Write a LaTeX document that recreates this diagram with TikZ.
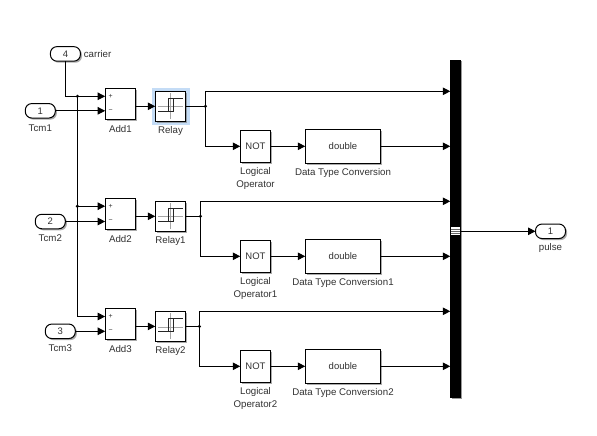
\documentclass[tikz,border=0pt]{standalone}
\usepackage{fontspec}
\setmainfont{Liberation Sans}
\usetikzlibrary{arrows.meta,shadows,calc}
\definecolor{lab}{RGB}{50,50,50}
\definecolor{hilite}{RGB}{196,220,246}
\tikzset{
  x=1pt,y=-1pt,
  blk/.style={draw=black,fill=white,line width=1pt,inner sep=0pt,outer sep=0pt,
    drop shadow={shadow xshift=1.6pt,shadow yshift=-1.6pt,fill=black!55,opacity=.6},font=\fontsize{9.5}{10}\selectfont,text=lab},
  port/.style={blk,rounded corners=6.5pt,minimum width=30pt,minimum height=14.5pt},
  lbl/.style={inner sep=0pt,font=\fontsize{9.7}{10}\selectfont,text=lab},
  wire/.style={draw=black,line width=1pt},
  sig/.style={wire,-{Triangle[length=7.5pt,width=7.5pt]}},
  dot/.style={circle,fill=black,inner sep=0pt,minimum size=3.4pt},
  sgn/.style={inner sep=0pt,font=\fontsize{7}{7}\selectfont,text=lab},
}
\newcommand{\addblk}[6]{% name, centre y, label, ya, yb, yout
  \node[blk,minimum width=30.5pt,minimum height=31pt] (#1) at (120.4,#2) {};
  \coordinate (#1a) at (#1.west |- 0,#4);
  \coordinate (#1b) at (#1.west |- 0,#5);
  \coordinate (#1o) at (#1.east |- 0,#6);
  \node[sgn] at (110.7,#4) {+};
  \node[sgn] at (110.7,#5) {−};
  \node[lbl] at ($(#1.south)+(0,9.8)$) {#3};
}
\newcommand{\relayblk}[3]{% name, centre y, label
  \node[blk,minimum width=30.5pt,minimum height=30pt] (#1) at (170.5,#2) {};
  \draw[black!35,line width=0.7pt] ($(#1.center)+(-12.5,0.5)$) -- ($(#1.center)+(12.5,0.5)$);
  \draw[black!35,line width=0.7pt] ($(#1.center)+(0,-13)$) -- ($(#1.center)+(0,13)$);
  \draw[black!85,line width=0.9pt] ($(#1.center)+(-12.5,5.4)$) -- ($(#1.center)+(-2.5,5.4)$) -- ($(#1.center)+(-2.5,-8)$) -- ($(#1.center)+(12.5,-8)$);
  \draw[black!85,line width=0.9pt] ($(#1.center)+(-2.5,5.4)$) -- ($(#1.center)+(2.5,5.4)$) -- ($(#1.center)+(2.5,-8)$);
  \node[lbl] at ($(#1.south)+(0,9.8)$) {#3};
}
\newcommand{\notblk}[3]{% name, centre y, suffix
  \node[blk,minimum width=30.5pt,minimum height=32pt] (#1) at (255.5,#2) {NOT};
  \node[lbl] (#1l) at ($(#1.south)+(0,9.7)$) {Logical};
  \node[lbl] (#1m) at ($(#1.south)+(0,23)$) {Operator#3};
}
\newcommand{\dblblk}[3]{% name, centre y, suffix
  \node[blk,minimum width=75.5pt,minimum height=34pt] (#1) at (343,#2) {double};
  \node[lbl] at ($(#1.south)+(0,9.6)$) {Data Type Conversion#3};
}
\begin{document}
\begin{tikzpicture}
\useasboundingbox (0,0) rectangle (597,436);
\fill[white] (0,0) rectangle (597,436);

% bus
\fill[black!40] (451.8,61.5) rectangle (462.2,399.2);
\node[fill=black,inner sep=0pt,outer sep=0pt,minimum width=10.4pt,minimum height=337.7pt] (bus) at (455.5,228.85) {};
\node[fill=white,inner sep=0pt,outer sep=0pt,minimum width=9.2pt,minimum height=8pt] (busout) at (455.5,231.3) {};
\draw[black!60,line width=0.6pt] (busout.west |- 0,229.3) -- (busout.east |- 0,229.3)
  (busout.west |- 0,231.3) -- (busout.east |- 0,231.3)
  (busout.west |- 0,233.3) -- (busout.east |- 0,233.3);

% relay highlight
\fill[hilite] (152,88) rectangle (189.7,125);

% ports
\node[port] (p4) at (65.4,53.9) {4};
\node[lbl,anchor=west] at (83.6,54) {carrier};
\node[port] (p1) at (40.3,110.8) {1};
\node[lbl] at (40.3,127.8) {Tcm1};
\node[port] (p2) at (50.3,221.5) {2};
\node[lbl] at (50.3,237.8) {Tcm2};
\node[port] (p3) at (60.3,331.3) {3};
\node[lbl] at (60.3,347.8) {Tcm3};
\node[port] (out) at (550.5,231.3) {1};
\node[lbl] at (550.5,248) {pulse};

% blocks
\addblk{addA}{103.8}{Add1}{96.3}{110.8}{106.3}
\addblk{addB}{213.8}{Add2}{206.2}{221.5}{216.3}
\addblk{addC}{324}{Add3}{316.5}{331.3}{326.4}
\relayblk{relA}{106.3}{Relay}
\relayblk{relB}{216.3}{Relay1}
\relayblk{relC}{326.4}{Relay2}
\notblk{notA}{146.3}{}
\notblk{notB}{256.3}{1}
\notblk{notC}{366.3}{2}
\dblblk{dblA}{146.3}{}
\dblblk{dblB}{256.3}{1}
\dblblk{dblC}{366.3}{2}

% junctions
\node[dot] (jA) at (77.4,96.3) {};
\node[dot] (jB) at (77.4,206.2) {};
\node[dot] (rA) at (205.4,106.3) {};
\node[dot] (rB) at (200.4,216.3) {};
\node[dot] (rC) at (199.4,326.4) {};
\coordinate (bendC) at (77.4,316.5);
\coordinate (cornerA) at (65.4,96.3);

% connectors
\draw[sig] (p4.south) -- (cornerA) -- (addAa);
\draw[wire] (jA.center) -- (jB.center) -- (bendC);
\draw[sig] (jB.center) -- (addBa);
\draw[sig] (bendC) -- (addCa);
\draw[sig] (p1.east) -- (addAb);
\draw[sig] (p2.east) -- (addBb);
\draw[sig] (p3.east) -- (addCb);
\draw[sig] (addAo) -- (relA.west);
\draw[sig] (addBo) -- (relB.west);
\draw[sig] (addCo) -- (relC.west);
\draw[wire] (relA.east) -- (rA.center);
\draw[wire] (relB.east) -- (rB.center);
\draw[wire] (relC.east) -- (rC.center);
\foreach \rr/\nn/\dd/\ya in {rA/notA/dblA/91.3,rB/notB/dblB/201.3,rC/notC/dblC/311.3}{
  \draw[sig] (\rr.center) -- (\rr.center |- 0,\ya) -- (bus.west |- 0,\ya);
  \draw[sig] (\rr.center) -- (\rr.center |- \nn.west) -- (\nn.west);
  \draw[sig] (\nn.east) -- (\dd.west);
  \draw[sig] (\dd.east) -- (bus.west |- \dd.east);
}
\draw[sig] (busout.east) -- (out.west);
\end{tikzpicture}
\end{document}
